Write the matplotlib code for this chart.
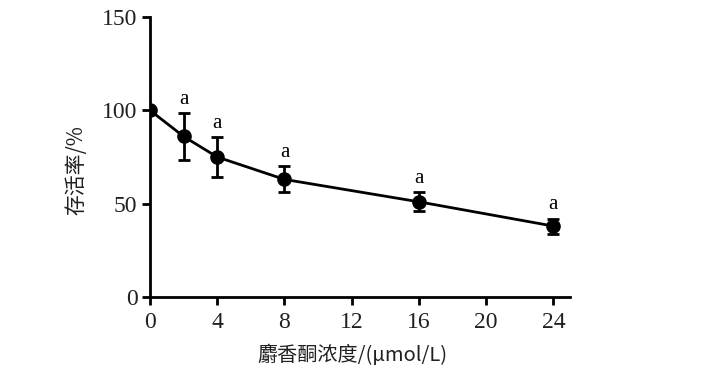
import matplotlib
matplotlib.use("Agg")
import matplotlib.pyplot as plt

conc = [0, 2, 4, 8, 16, 24]
survival = [100, 86, 75, 63, 51, 38]
err = [0, 12.5, 10.5, 7, 5, 4]
letters = ["", "a", "a", "a", "a", "a"]
xticks = [0, 4, 8, 12, 16, 20, 24]
yticks = [0, 50, 100, 150]

serif = ["Liberation Serif", "DejaVu Serif"]
cjk = ["Noto Sans CJK SC", "Liberation Serif", "DejaVu Sans"]

fig = plt.figure(figsize=(7.11, 3.69), dpi=100)
ax = fig.add_axes([0.211, 0.195, 0.591, 0.759])

ax.errorbar(conc, survival, yerr=err, fmt="-o", color="black", lw=2,
            markersize=9.5, elinewidth=2, capsize=4.3, capthick=2, zorder=3)

for x, y, e, t in zip(conc, survival, err, letters):
    if t:
        ax.annotate(t, (x, y + e), xytext=(0, 3), textcoords="offset points",
                    ha="center", va="bottom", fontsize=15, family=serif)

ax.set_xlim(0, 25)
ax.set_ylim(0, 150)
ax.set_xticks(xticks)
ax.set_yticks(yticks)
for s in ["top", "right"]:
    ax.spines[s].set_visible(False)
for s in ["left", "bottom"]:
    ax.spines[s].set_linewidth(2)
ax.tick_params(width=2, length=6, direction="out", labelsize=17, pad=3)
ax.tick_params(axis="x", pad=5)
for lab in ax.get_xticklabels() + ax.get_yticklabels():
    lab.set_family(serif)
    lab.set_color("#231f20")

ax.set_xlabel("麝香酮浓度/(μmol/L)", fontsize=14.5, family=cjk, color="#231f20")
ax.set_ylabel("存活率/%", fontsize=15, family=cjk, color="#231f20")
ax.xaxis.set_label_coords(0.481, -0.207)
ax.yaxis.set_label_coords(-0.175, 0.454)
ax.xaxis.label.set_va("center")
ax.yaxis.label.set_va("center")
for sp in ax.spines.values():
    sp.set_clip_on(False)

fig.savefig("out.png", dpi=100)
